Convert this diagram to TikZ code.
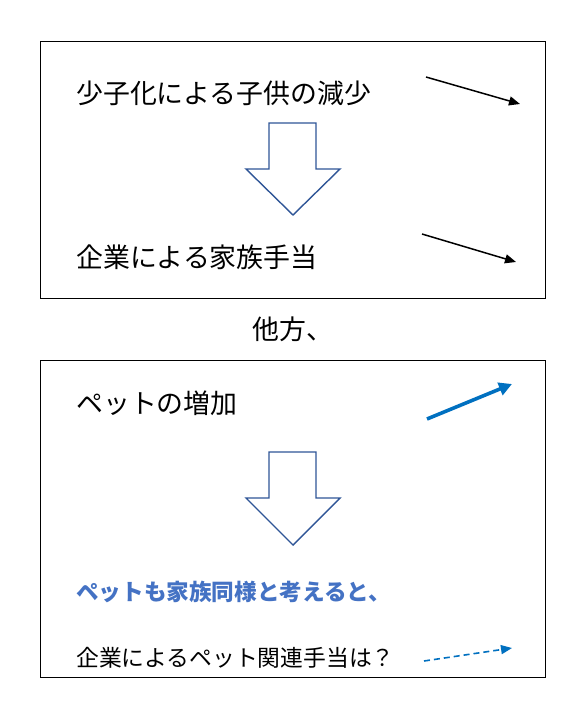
\documentclass[tikz,border=0pt]{standalone}
\usepackage{fontspec}
\setmainfont{Noto Sans CJK JP}
\newfontfamily\jp{Noto Sans CJK JP}
\usetikzlibrary{arrows.meta}
\definecolor{arrowblue}{HTML}{2F5597}
\definecolor{lineblue}{HTML}{0070C0}
\definecolor{textblue}{HTML}{4472C4}
\tikzset{
  frame/.style={draw=black, line width=0.9pt},
  bigtxt/.style={anchor=base west, inner sep=0pt, font=\jp\fontsize{26.9}{30}\selectfont},
  smalltxt/.style={anchor=base west, inner sep=0pt, font=\jp\fontsize{22.8}{26}\selectfont},
  blocky/.style={draw=arrowblue, line width=1.4pt, fill=white, line join=miter},
  trend/.style={draw=black, line width=1.5pt, -{Triangle[length=11pt,width=9pt]}},
  up/.style={draw=lineblue, line width=3.6pt, -{Triangle[length=13pt,width=13pt]}},
  maybe/.style={draw=lineblue, line width=1.6pt, dash pattern=on 6pt off 4pt, -{Triangle[length=11pt,width=9pt]}}
}
\begin{document}
\begin{tikzpicture}[x=1pt,y=-1pt]
\useasboundingbox[fill=white] (0,0) rectangle (586,720);
% frames
\draw[frame] (40,41) rectangle (545,298);
\draw[frame] (40,360) rectangle (545,677);
% texts
\node[bigtxt] (t1) at (76,103) {少子化による子供の減少};
\node[bigtxt] (t2) at (76,267) {企業による家族手当};
\node[bigtxt] (t3) at (252,339) {他方、};
\node[bigtxt] (t4) at (76,413) {ペットの増加};
\node[smalltxt, text=textblue, font=\jp\bfseries\fontsize{22.6}{26}\selectfont] (t5) at (76,600.5) {ペットも家族同様と考えると、};
\node[smalltxt] (t6) at (76,666) {企業によるペット関連手当は？};
% block arrows
\draw[blocky] (269,123) -- (316,123) -- (316,169) -- (340,169) -- (293,215) -- (246,169) -- (269,169) -- cycle;
\draw[blocky] (269,452) -- (316,452) -- (316,498) -- (340,498) -- (293,545) -- (246,498) -- (269,498) -- cycle;
% trend arrows
\coordinate (a1s) at (426,77); \coordinate (a1e) at (520,104);
\coordinate (a2s) at (422,234); \coordinate (a2e) at (516,262);
\coordinate (a3s) at (427,419); \coordinate (a3e) at (512,384);
\coordinate (a4s) at (424,661); \coordinate (a4e) at (512,648);
\draw[trend] (a1s) -- (a1e);
\draw[trend] (a2s) -- (a2e);
\draw[up] (a3s) -- (a3e);
\draw[maybe] (a4s) -- (a4e);
\end{tikzpicture}
\end{document}
